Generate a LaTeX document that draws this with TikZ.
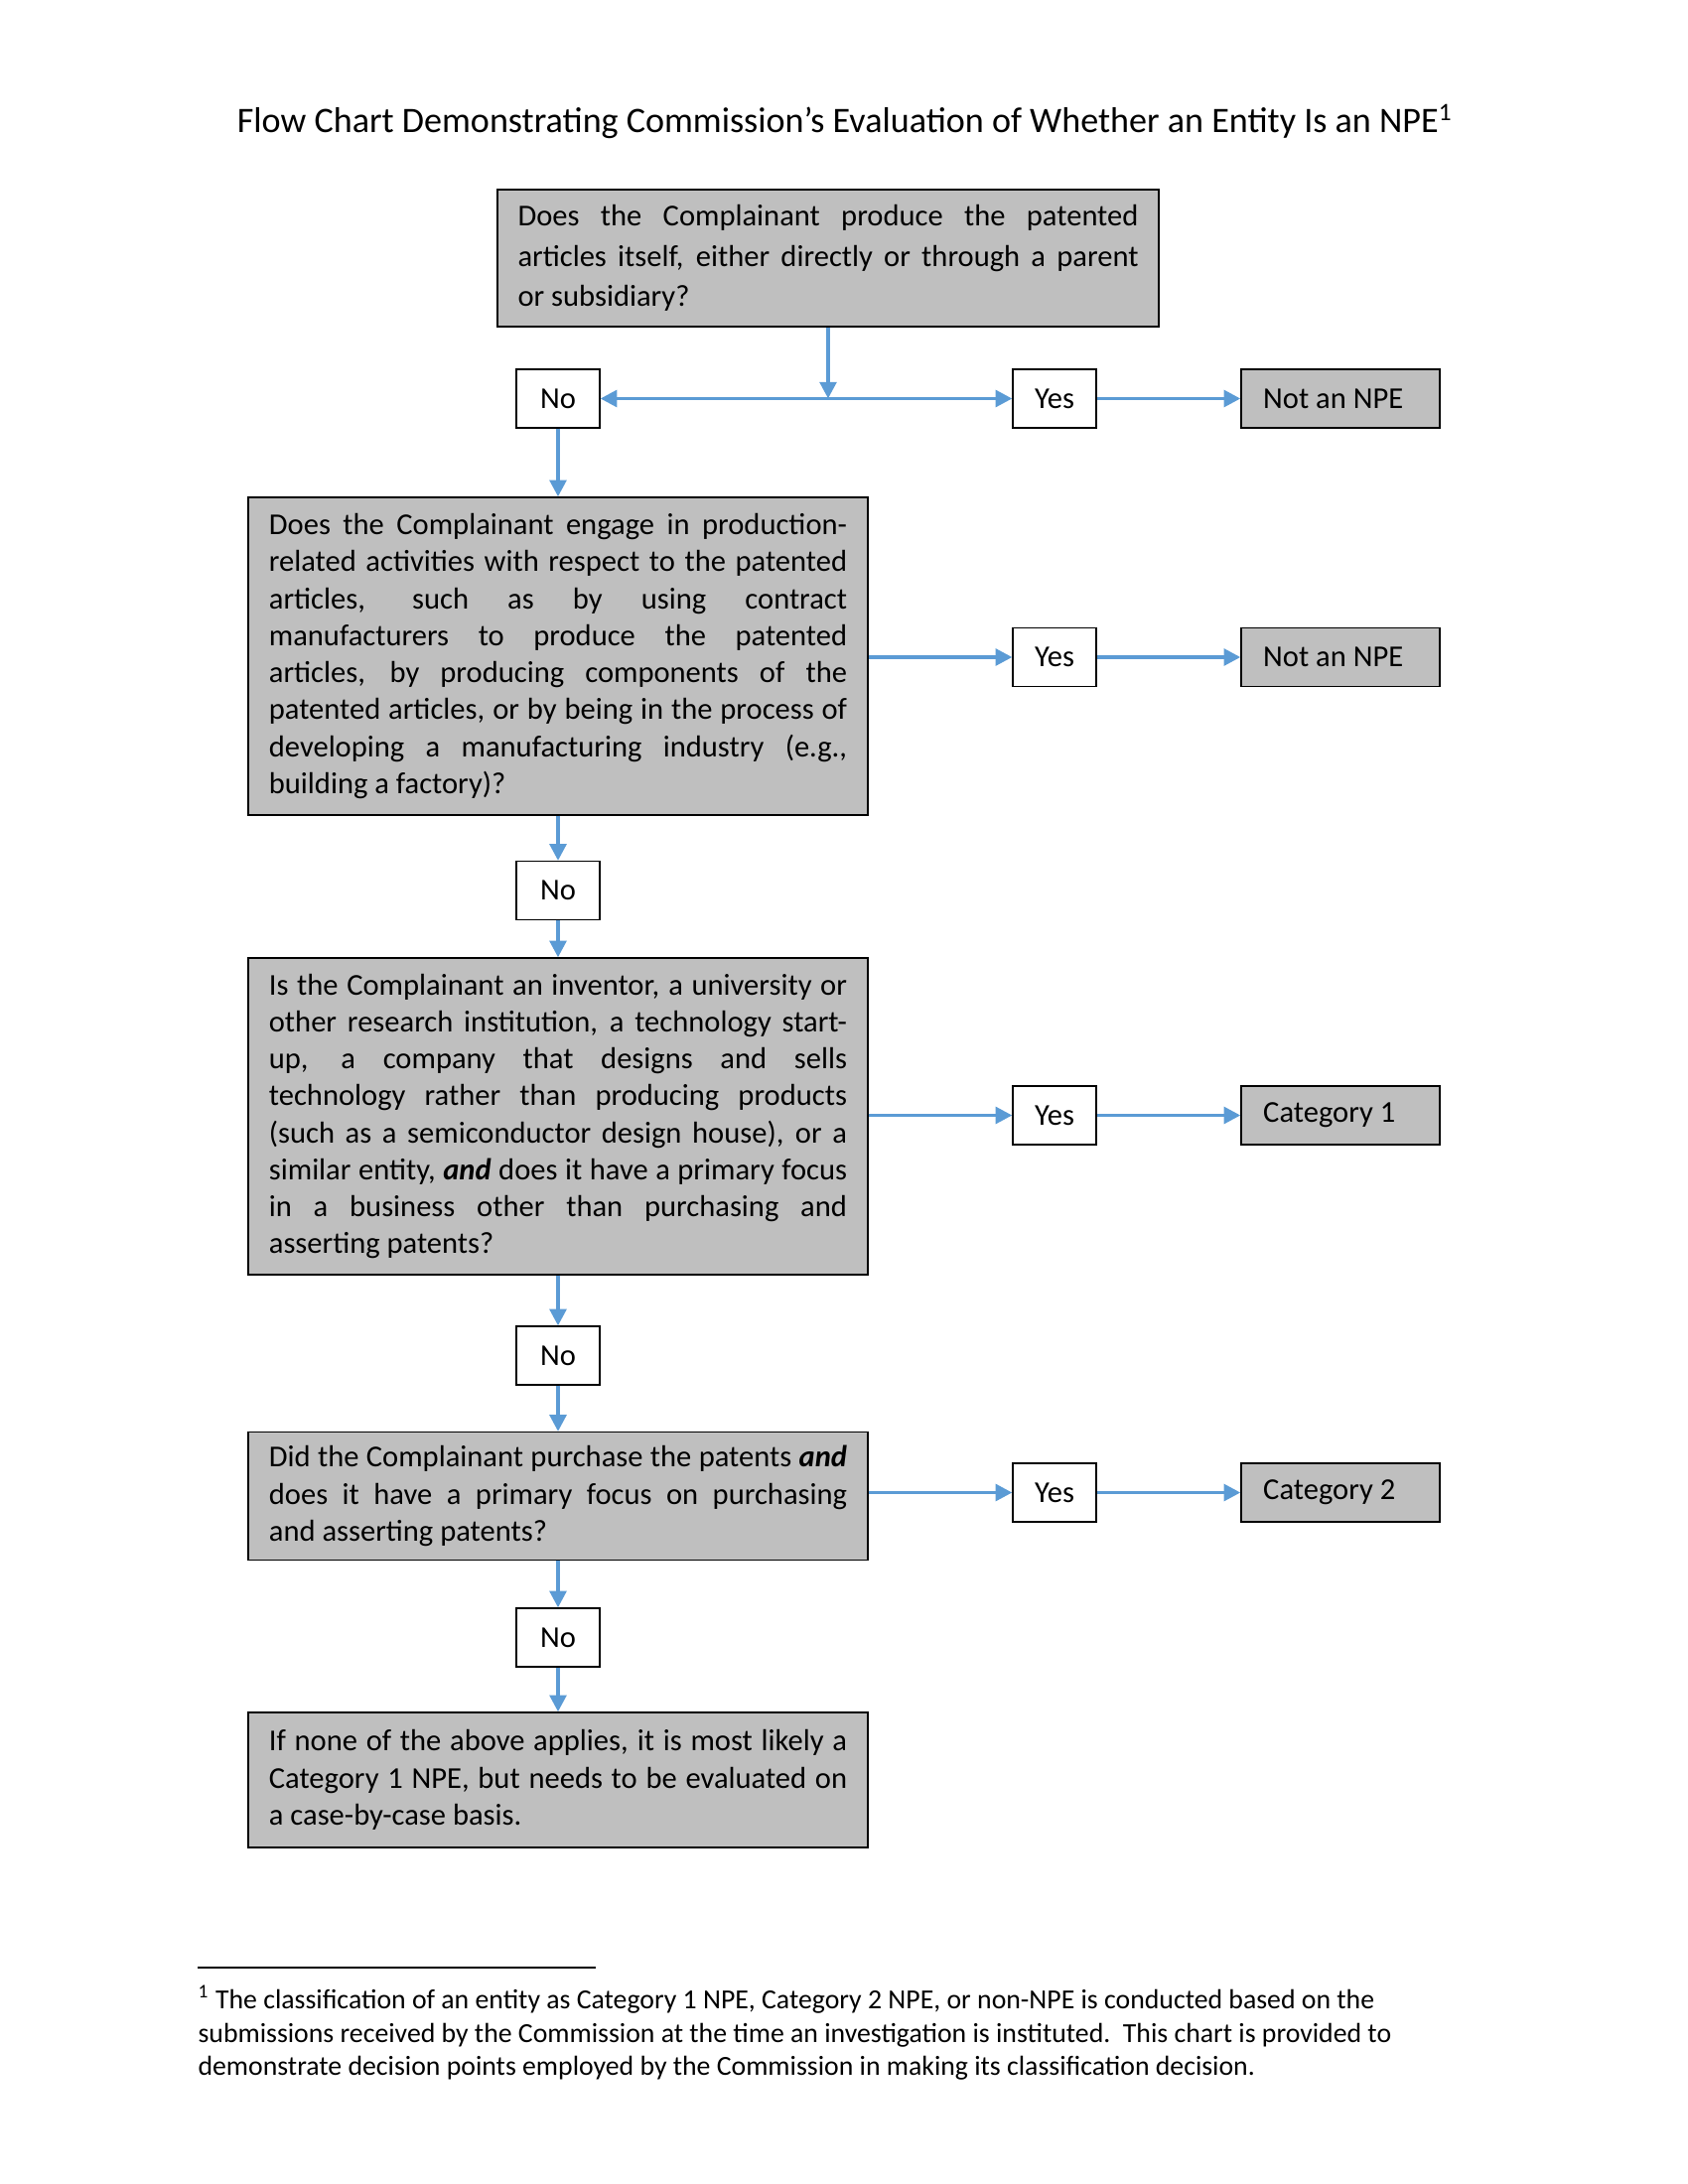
\documentclass[tikz,border=0pt]{standalone}
\usepackage{fontspec}
\setmainfont{Carlito}
\usetikzlibrary{arrows.meta}
\definecolor{arrblue}{HTML}{5B9BD5}
\definecolor{boxgray}{HTML}{BFBFBF}
\tikzset{
  bodyfont/.style={font=\fontsize{11pt}{13.4pt}\selectfont},
  qbox/.style={draw=black, line width=0.5pt, fill=boxgray, text width=209.6pt,
    inner xsep=7.5pt, inner ysep=0pt, align=justify, bodyfont},
  lbl/.style={draw=black, line width=0.5pt, fill=white, minimum width=30.2pt,
    minimum height=21.2pt, inner sep=0pt, bodyfont},
  resbox/.style={draw=black, line width=0.5pt, fill=boxgray, minimum height=21.2pt,
    text width=56pt, inner xsep=8pt, inner ysep=0pt, align=flush left, bodyfont},
  arr/.style={draw=arrblue, line width=1.3pt, -{Triangle[length=6pt,width=6pt]}},
  fnote/.style={anchor=base west, inner sep=0pt, font=\fontsize{10pt}{12.1pt}\selectfont},
}
\begin{document}
\begin{tikzpicture}[x=0.36pt, y=-0.36pt]
\useasboundingbox (0,0) rectangle (1700,2200);

\node[anchor=base, inner sep=0pt, font=\fontsize{13pt}{15.8pt}\selectfont] (title) at (851,134)
  {Flow Chart Demonstrating Commission’s Evaluation of Whether an Entity Is an NPE\textsuperscript{1}};

% question boxes
\node[qbox, text width=225pt, inner xsep=7.4pt, minimum height=49.7pt,
  font=\fontsize{11pt}{14.6pt}\selectfont] (b1) at (834,260)
  {Does the Complainant produce the patented\linebreak articles itself, either directly or through a parent\linebreak or subsidiary?};
\path[use as bounding box] (0,0) rectangle (1700,2200);

\node[qbox, minimum height=115.2pt] (b2) at (562,661)
  {Does the Complainant engage in production-\linebreak related activities with respect to the patented\linebreak articles, such as by using contract\linebreak manufacturers to produce the patented\linebreak articles, by producing components of the\linebreak patented articles, or by being in the process of\linebreak developing a manufacturing industry (e.g.,\linebreak building a factory)?};

\node[qbox, minimum height=114.8pt] (b3) at (562,1124.5)
  {Is the Complainant an inventor, a university or\linebreak other research institution, a technology start-\linebreak up, a company that designs and sells\linebreak technology rather than producing products\linebreak (such as a semiconductor design house), or a\linebreak similar entity, \textbf{\textit{and}} does it have a primary focus\linebreak in a business other than purchasing and\linebreak asserting patents?};

\node[qbox, minimum height=46.4pt] (b4) at (562,1507)
  {Did the Complainant purchase the patents \textbf{\textit{and}}\linebreak does it have a primary focus on purchasing\linebreak and asserting patents?};

\node[qbox, minimum height=49pt] (b5) at (562,1793)
  {If none of the above applies, it is most likely a\linebreak Category 1 NPE, but needs to be evaluated on\linebreak a case-by-case basis.};

% No / Yes labels
\node[lbl] (no1) at (562,401.5) {No};
\node[lbl] (no2) at (562,897) {No};
\node[lbl] (no3) at (562,1365.5) {No};
\node[lbl] (no4) at (562,1649.5) {No};

\node[lbl] (yes1) at (1062,401.5) {Yes};
\node[lbl] (yes2) at (1062,662) {Yes};
\node[lbl] (yes3) at (1062,1123.5) {Yes};
\node[lbl] (yes4) at (1062,1503.5) {Yes};

% results
\node[resbox] (r1) at (1350,401.5) {Not an NPE};
\node[resbox] (r2) at (1350,662) {Not an NPE};
\node[resbox] (r3) at (1350,1123.5) {Category 1};
\node[resbox] (r4) at (1350,1503.5) {Category 2};

% connectors
\coordinate (j1) at (b1.south |- no1.center);
\draw[arr] (b1.south) -- (j1);
\draw[arr] (j1) -- (no1.east);
\draw[arr] (j1) -- (yes1.west);
\draw[arr] (yes1) -- (r1);
\draw[arr] (no1) -- (b2);

\draw[arr] (b2.east |- yes2.west) -- (yes2.west);
\draw[arr] (yes2) -- (r2);
\draw[arr] (b2) -- (no2);
\draw[arr] (no2) -- (b3);

\draw[arr] (b3.east |- yes3.west) -- (yes3.west);
\draw[arr] (yes3) -- (r3);
\draw[arr] (b3) -- (no3);
\draw[arr] (no3) -- (b4);

\draw[arr] (b4.east |- yes4.west) -- (yes4.west);
\draw[arr] (yes4) -- (r4);
\draw[arr] (b4) -- (no4);
\draw[arr] (no4) -- (b5);

% footnote
\coordinate (fr1) at (199,1982);
\coordinate (fr2) at (600,1982);
\draw[line width=0.6pt] (fr1) -- (fr2);
\node[fnote] (fn1) at (199,2023) {\textsuperscript{1} The classification of an entity as Category 1 NPE, Category 2 NPE, or non-NPE is conducted based on the};
\node[fnote] (fn2) at (199,2057) {submissions received by the Commission at the time an investigation is instituted.\ \ This chart is provided to};
\node[fnote] (fn3) at (199,2090) {demonstrate decision points employed by the Commission in making its classification decision.};
\end{tikzpicture}
\end{document}
